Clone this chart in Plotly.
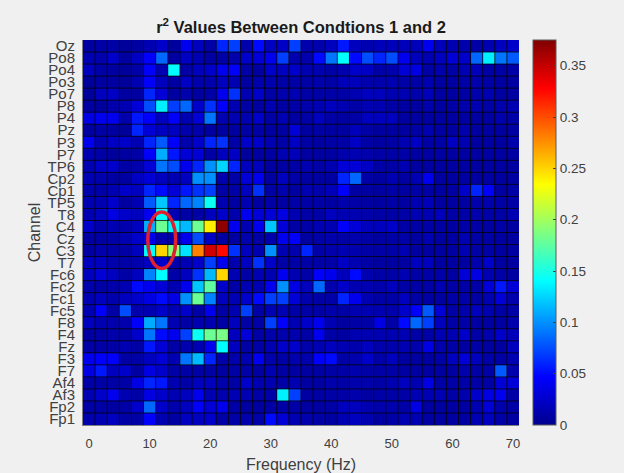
import plotly.graph_objects as go

channels = ["Oz","Po8","Po4","Po3","Po7","P8","P4","Pz","P3","P7","TP6","Cp2","Cp1","TP5","T8","C4",
            "Cz","C3","T7","Fc6","Fc2","Fc1","Fc5","F8","F4","Fz","F3","F7","Af4","Af3","Fp2","Fp1"]
freqs = list(range(0, 72, 2))

# r^2 values x 1000, one list per channel (0 to 70 Hz)
Oz  = [8,10,10,5,8,15,25,6,40,20,10,60,70,12,50,20,22, 70,12,12,20,55,20,15,18,18,18,18,40,18,15,12,10,15,20,25]
Po8 = [15,12,25,8,22,45,85,8,22,15,8,10,12,25,30,40,70, 12,12,50,90,140,50,75,60,75,40,20,15,20,30,25,85,135,90,80]
Po4 = [20,10,8,5,10,45,15,140,10,20,25,40,45,10,8,25,20, 25,15,15,10,12,25,22,10,12,30,35,10,12,10,15,18,10,10,10]
Po3 = [5,8,8,5,15,45,20,8,22,12,12,20,15,8,12,12,10, 10,10,12,10,18,18,12,12,15,10,10,15,8,8,10,12,10,8,8]
Po7 = [6,20,22,8,8,60,30,8,12,8,10,40,65,15,25,10,12, 15,10,10,10,10,15,20,20,15,15,12,18,8,8,8,12,15,8,8]
P8  = [8,6,12,15,30,75,135,70,85,25,65,45,15,10,8,15,8, 10,12,15,20,15,10,15,15,10,8,8,12,8,10,12,15,10,12,15]
P4  = [35,40,40,12,55,45,20,45,15,30,90,15,15,15,25,10,15, 8,10,20,10,8,10,20,20,20,8,8,8,8,8,8,8,8,12,10]
Pz  = [8,10,8,5,60,30,20,20,12,12,8,8,8,10,10,8,8, 30,8,10,8,8,18,10,8,8,8,10,15,8,8,12,8,8,8,8]
P3  = [40,15,22,25,15,60,80,45,12,25,60,65,10,25,25,15,10, 22,10,8,10,10,22,10,8,10,15,22,10,10,22,15,8,8,8,12]
P7  = [15,10,6,8,10,45,110,55,30,30,10,20,22,6,8,8,15, 18,8,8,8,12,15,12,10,10,10,8,8,8,8,8,8,8,8,8]
TP6 = [15,25,25,10,12,30,90,75,40,60,100,125,60,20,20,8,8, 10,15,10,15,30,30,22,10,10,15,8,8,8,8,8,8,8,8,8]
Cp2 = [15,12,8,8,22,30,20,15,20,100,100,12,10,30,40,8,20, 10,8,8,8,60,85,10,8,15,8,15,40,8,8,8,8,8,8,8]
Cp1 = [12,10,15,25,20,60,50,30,55,65,70,10,10,20,65,10,12, 8,15,12,18,45,8,8,8,10,8,10,10,8,8,25,60,45,8,10]
TP5 = [15,15,25,8,15,80,120,60,85,95,145,15,8,15,8,10,8, 10,10,10,8,12,10,8,8,10,8,15,18,8,8,8,12,12,10,10]
T8  = [15,20,35,25,20,40,140,15,10,10,20,25,12,40,30,30,35, 15,10,10,20,15,15,12,10,10,10,15,15,18,10,10,12,10,10,15]
C4  = [25,12,15,12,20,110,180,140,115,180,240,370,40,15,40,120,30, 10,10,15,15,45,30,20,20,25,10,10,10,8,8,10,10,8,10,8]
Cz  = [8,8,10,15,25,40,12,15,40,75,22,8,8,12,10,12,40, 45,8,10,12,10,12,10,8,10,10,8,15,8,8,15,10,10,8,8]
C3  = [8,12,10,10,20,140,250,190,130,280,345,325,65,20,15,100,15, 12,60,10,12,15,12,10,10,10,15,8,8,8,8,15,10,10,8,8]
T7  = [20,20,12,10,12,20,25,12,15,25,70,40,12,20,65,25,10, 10,10,10,10,22,15,10,8,8,8,20,20,8,8,8,12,25,8,8]
Fc6 = [20,30,20,10,20,95,140,10,20,65,115,250,15,10,15,15,40, 15,10,45,40,18,50,15,10,10,15,10,10,10,8,30,35,15,10,8]
Fc2 = [12,10,12,15,50,40,30,15,40,120,175,25,10,15,15,40,100, 35,20,85,12,25,15,15,12,20,10,10,10,15,10,10,10,30,55,30]
Fc1 = [15,20,12,20,25,35,50,35,100,180,95,20,15,25,50,70,70, 30,12,10,10,60,40,15,10,10,20,10,8,8,10,10,8,15,30,12]
Fc5 = [15,45,10,75,12,15,25,15,25,10,40,10,15,70,10,15,15, 10,10,10,12,10,15,15,15,12,25,45,80,30,10,12,20,15,10,10]
F8  = [20,15,12,12,45,110,90,15,10,15,15,10,20,10,10,70,45, 15,25,40,15,8,10,10,35,10,50,85,70,20,10,10,8,8,8,12]
F4  = [8,10,12,10,25,90,50,40,70,145,180,185,20,30,10,12,12, 12,10,40,10,8,15,15,15,15,15,10,10,15,15,25,10,12,25,18]
Fz  = [10,10,10,15,10,55,30,10,12,15,40,140,20,10,10,15,25, 25,12,15,20,15,12,20,12,12,15,12,35,12,10,8,10,8,8,20]
F3  = [40,45,45,10,10,20,30,15,90,115,60,12,12,15,40,12,10, 12,12,45,50,10,12,25,10,20,8,8,8,10,20,30,20,10,10,15]
F7  = [35,55,20,25,8,35,25,10,10,10,10,8,10,10,8,15,8, 8,8,8,10,10,12,10,10,10,8,8,8,8,8,12,10,10,80,12]
Af4 = [10,10,10,10,35,60,55,15,10,20,20,12,10,25,15,15,10, 15,8,8,12,10,12,12,10,15,20,15,35,10,10,10,10,10,30,30]
Af3 = [15,25,40,15,10,35,25,15,20,40,15,12,15,15,10,10,135, 70,8,8,10,10,12,8,10,10,10,15,15,15,10,12,25,35,40,10]
Fp2 = [10,10,8,10,25,85,25,12,20,45,30,40,10,8,8,10,10, 10,8,8,10,20,20,15,12,12,10,35,8,8,8,8,15,30,12,10]
Fp1 = [12,15,20,10,10,45,15,8,20,20,25,10,10,12,10,50,30, 15,12,10,8,15,20,15,8,10,15,15,8,8,8,8,15,20,10,8]

rows = [Oz,Po8,Po4,Po3,Po7,P8,P4,Pz,P3,P7,TP6,Cp2,Cp1,TP5,T8,C4,Cz,C3,T7,Fc6,Fc2,Fc1,Fc5,F8,F4,Fz,F3,F7,Af4,Af3,Fp2,Fp1]
z = [[v / 1000 for v in r] for r in rows]

jet = [[0, "#00008f"], [0.125, "#0000ff"], [0.375, "#00ffff"], [0.625, "#ffff00"], [0.875, "#ff0000"], [1, "#800000"]]
grey = "#404040"
sans = "Liberation Sans, Arial, sans-serif"

fig = go.Figure(go.Heatmap(
    x=freqs, y=list(range(len(channels))), z=z, zmin=0, zmax=0.375, colorscale=jet,
    colorbar=dict(x=1.032, xanchor="left", xpad=0, ypad=0, y=0, yanchor="bottom", len=1, thickness=23,
                  outlinecolor="#5a5a5a", outlinewidth=1, tickvals=[0,0.05,0.1,0.15,0.2,0.25,0.3,0.35],
                  ticktext=["0","0.05","0.1","0.15","0.2","0.25","0.3","0.35"],
                  ticks="inside", ticklen=3, tickcolor="#404040",
                  tickfont=dict(family=sans, size=13.5, color=grey)),
))
# cell outlines, from the cell edges of the two axes
cell_line = dict(color="rgba(0,0,0,0.75)", width=1)
for f in freqs[1:]:
    fig.add_shape(type="line", xref="x", yref="y", x0=f - 1, x1=f - 1, y0=-0.5, y1=31.5, line=cell_line, layer="above")
for i in range(1, len(channels)):
    fig.add_shape(type="line", xref="x", yref="y", x0=-1, x1=71, y0=i - 0.5, y1=i - 0.5, line=cell_line, layer="above")
fig.add_shape(type="circle", xref="x", yref="y", x0=9.7, x1=14.3, y0=13.8, y1=18.5,
              line=dict(color="#e0202f", width=3.5))
fig.update_layout(
    width=624, height=473, margin=dict(l=83, r=105, t=40, b=48),
    paper_bgcolor="#f0f0f0", plot_bgcolor="#00001e",
    title=dict(text="r<sup>2</sup> Values Between Condtions 1 and 2", x=0.5, xref="paper", xanchor="center",
               y=0.93, yanchor="bottom", font=dict(family=sans, size=16.5, color="#1a1a1a", weight="bold")),
    font=dict(family=sans, color=grey),
    xaxis=dict(range=[-1, 71], tickvals=list(range(0, 80, 10)), showgrid=False, zeroline=False, ticks="",
               tickfont=dict(size=13, color=grey), ticklabelstandoff=6, showline=True, linecolor="#808080",
               automargin=False, title=dict(text="Frequency (Hz)", font=dict(size=16, color=grey), standoff=12)),
    yaxis=dict(range=[31.5, -0.5], tickvals=list(range(len(channels))), ticktext=channels, showgrid=False,
               zeroline=False, ticks="", tickfont=dict(size=15, color=grey), ticklabelstandoff=4, showline=True,
               automargin=False, linecolor="#808080", title=dict(text="Channel", font=dict(size=16, color=grey), standoff=2)),
)
fig.write_html("out.html", config=dict(displayModeBar=False),
               post_script="document.body.style.margin='0';document.body.style.background='#f0f0f0';")
